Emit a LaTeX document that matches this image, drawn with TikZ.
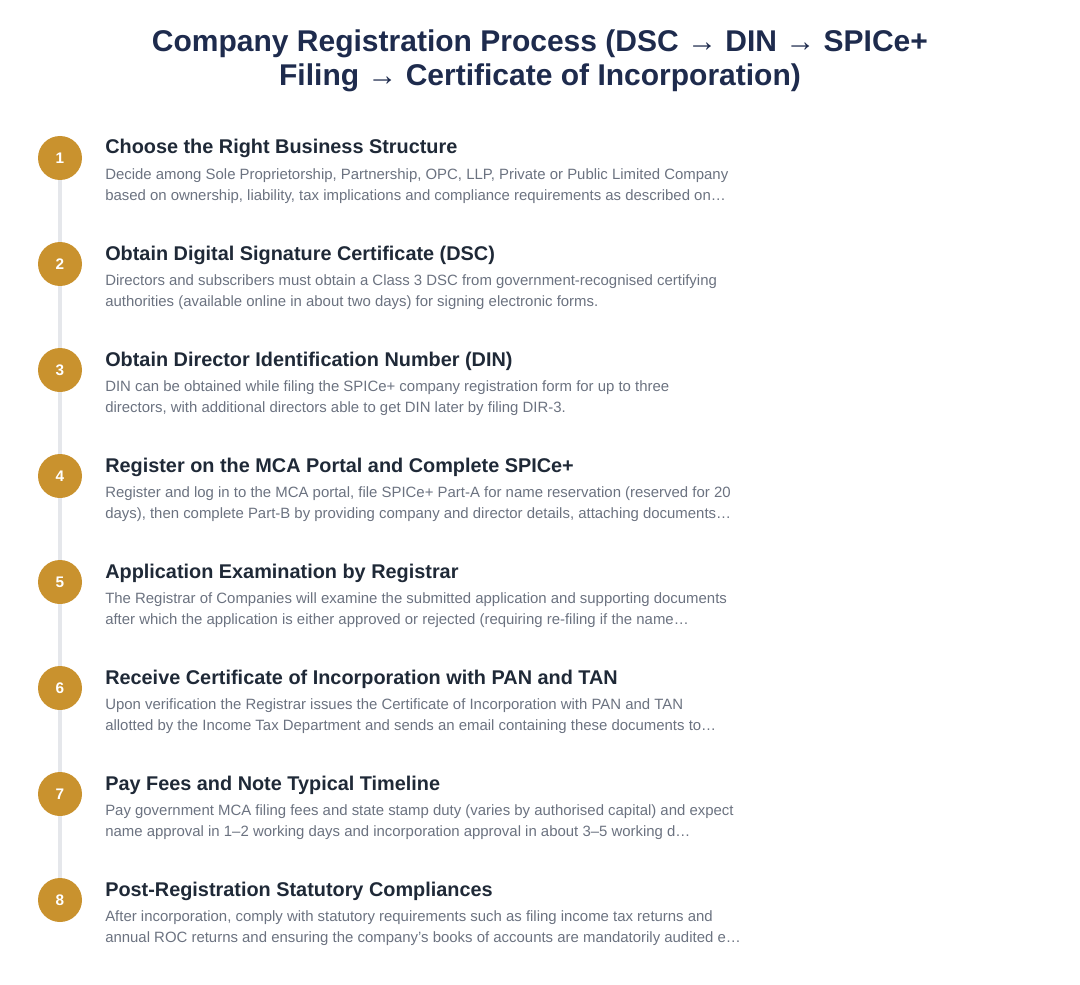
\documentclass[tikz,border=0pt]{standalone}
\usepackage{fontspec}
\setmainfont{Liberation Sans}
\usepackage{tikz}
\usetikzlibrary{positioning}
\definecolor{navy}{HTML}{1E2B4D}
\definecolor{ink}{HTML}{1F2937}
\definecolor{slate}{HTML}{6B7280}
\definecolor{gold}{HTML}{C9922E}
\definecolor{rail}{HTML}{E5E7EB}
\tikzstyle{heading} = [align=center, text=navy, font=\bfseries\fontsize{22.5}{25.5}\selectfont]
\tikzstyle{stepnum} = [circle, fill=gold, minimum size=33pt, inner sep=0pt, text=white, font=\bfseries\fontsize{11.5}{13}\selectfont]
\tikzstyle{steptitle} = [anchor=base west, inner sep=0pt, text=ink, font=\bfseries\fontsize{14.9}{17}\selectfont]
\tikzstyle{stepdesc} = [anchor=base west, inner sep=0pt, align=left, text=slate, font=\fontsize{11.2}{15.75}\selectfont]
\tikzstyle{railline} = [draw=rail, line width=3pt]

\begin{document}
\begin{tikzpicture}[x=0.75pt,y=-0.75pt,node distance=79.5pt]
  \useasboundingbox (0,0) rectangle (1080,984);
  \node[heading] (head) at (540,61) {Company Registration Process (DSC → DIN → SPICe+\\Filing → Certificate of Incorporation)};

  \node[stepnum] (s1) at (60,158) {1};
  \node[stepnum] (s2) [below of=s1] {2};
  \node[stepnum] (s3) [below of=s2] {3};
  \node[stepnum] (s4) [below of=s3] {4};
  \node[stepnum] (s5) [below of=s4] {5};
  \node[stepnum] (s6) [below of=s5] {6};
  \node[stepnum] (s7) [below of=s6] {7};
  \node[stepnum] (s8) [below of=s7] {8};

  \path[railline] (s1) -- (s2);
  \path[railline] (s2) -- (s3);
  \path[railline] (s3) -- (s4);
  \path[railline] (s4) -- (s5);
  \path[railline] (s5) -- (s6);
  \path[railline] (s6) -- (s7);
  \path[railline] (s7) -- (s8);

  % base anchor of a two-line text sits on its second line
  \node[steptitle] (t1) at (105,154) {Choose the Right Business Structure};
  \node[stepdesc] (d1) at (105,200) {Decide among Sole Proprietorship, Partnership, OPC, LLP, Private or Public Limited Company\\based on ownership, liability, tax implications and compliance requirements as described on…};
  \node[steptitle] (t2) at (105,260) {Obtain Digital Signature Certificate (DSC)};
  \node[stepdesc] (d2) at (105,306) {Directors and subscribers must obtain a Class 3 DSC from government-recognised certifying\\authorities (available online in about two days) for signing electronic forms.};
  \node[steptitle] (t3) at (105,366) {Obtain Director Identification Number (DIN)};
  \node[stepdesc] (d3) at (105,412) {DIN can be obtained while filing the SPICe+ company registration form for up to three\\directors, with additional directors able to get DIN later by filing DIR-3.};
  \node[steptitle] (t4) at (105,472) {Register on the MCA Portal and Complete SPICe+};
  \node[stepdesc] (d4) at (105,518) {Register and log in to the MCA portal, file SPICe+ Part-A for name reservation (reserved for 20\\days), then complete Part-B by providing company and director details, attaching documents…};
  \node[steptitle] (t5) at (105,578) {Application Examination by Registrar};
  \node[stepdesc] (d5) at (105,624) {The Registrar of Companies will examine the submitted application and supporting documents\\after which the application is either approved or rejected (requiring re-filing if the name…};
  \node[steptitle] (t6) at (105,684) {Receive Certificate of Incorporation with PAN and TAN};
  \node[stepdesc] (d6) at (105,730) {Upon verification the Registrar issues the Certificate of Incorporation with PAN and TAN\\allotted by the Income Tax Department and sends an email containing these documents to…};
  \node[steptitle] (t7) at (105,790) {Pay Fees and Note Typical Timeline};
  \node[stepdesc] (d7) at (105,836) {Pay government MCA filing fees and state stamp duty (varies by authorised capital) and expect\\name approval in 1–2 working days and incorporation approval in about 3–5 working d…};
  \node[steptitle] (t8) at (105,896) {Post-Registration Statutory Compliances};
  \node[stepdesc] (d8) at (105,942) {After incorporation, comply with statutory requirements such as filing income tax returns and\\annual ROC returns and ensuring the company’s books of accounts are mandatorily audited e…};
\end{tikzpicture}
\end{document}
